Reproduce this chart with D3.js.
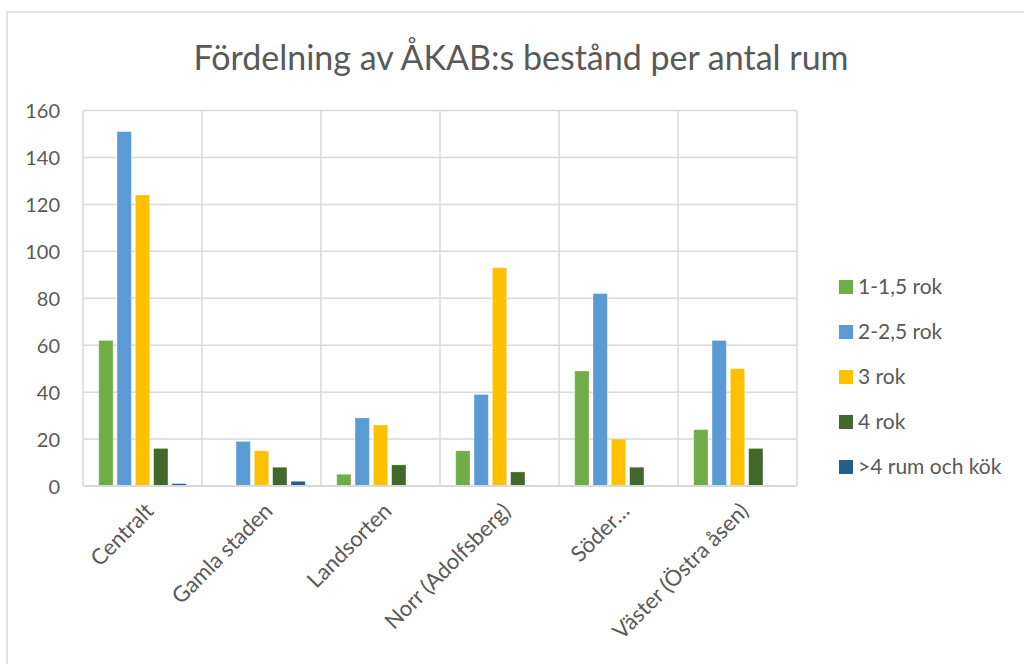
<!DOCTYPE html>
<html><head><meta charset="utf-8">
<script src="https://cdn.jsdelivr.net/npm/d3@7"></script>
<style>html,body{margin:0;padding:0;background:#fff;}svg{display:block;}</style>
</head><body>
<svg id="c" width="1024" height="664"></svg>
<script>
const categories = ["Centralt","Gamla staden","Landsorten","Norr (Adolfsberg)","Söder…","Väster (Östra åsen)"];
const seriesNames = ["1-1,5 rok","2-2,5 rok","3 rok","4 rok",">4 rum och kök"];
const seriesColors = ["#70AD47","#5B9BD5","#FFC000","#43682B","#255E91"];
const s1 = [62, 0, 5, 15, 49, 24];
const s2 = [151, 19, 29, 39, 82, 62];
const s3 = [124, 15, 26, 93, 20, 50];
const s4 = [16, 8, 9, 6, 8, 16];
const s5 = [1, 2, 0, 0, 0, 0];
const yTicks = [0,20,40,60,80,100,120,140,160];
const title = "Fördelning av ÅKAB:s bestånd per antal rum";

const series = [s1,s2,s3,s4,s5];
const font = "Lato, 'Open Sans', sans-serif";
const txt = "#595959", grid = "#d9d9d9";
const svg = d3.select("#c");

// outer chart border
svg.append("rect").attr("x",7).attr("y",12).attr("width",1100).attr("height",700)
  .attr("fill","none").attr("stroke",grid).attr("stroke-width",1.5);

const L = 83, R = 797, T = 110.5, B = 486;
const x0 = d3.scaleBand().domain(categories).range([L,R]).padding(0);
const x1 = d3.scaleBand().domain(d3.range(series.length)).range([0,x0.bandwidth()])
  .paddingInner(0.22).paddingOuter(0.86);
const y = d3.scaleLinear().domain([0,160]).range([B,T]);

// horizontal gridlines
svg.append("g").selectAll("line").data(yTicks.slice(1)).join("line")
  .attr("x1",L).attr("x2",R).attr("y1",d=>y(d)).attr("y2",d=>y(d))
  .attr("stroke",grid).attr("stroke-width",1.5);
// vertical gridlines
const vx = categories.map(c=>x0(c)).concat([R]);
svg.append("g").selectAll("line").data(vx).join("line")
  .attr("x1",d=>d).attr("x2",d=>d).attr("y1",T).attr("y2",B)
  .attr("stroke",grid).attr("stroke-width",1.5);

// bars
const g = svg.append("g");
series.forEach((vals,si)=>{
  g.selectAll(null).data(vals).join("rect")
    .attr("x",(d,i)=>x0(categories[i])+x1(si))
    .attr("width",x1.bandwidth())
    .attr("y",d=>y(d))
    .attr("height",d=>B-y(d))
    .attr("fill",seriesColors[si])
    .attr("stroke","#ffffff").attr("stroke-opacity",0.35).attr("stroke-width",0.8);
});

// baseline axis
svg.append("line").attr("x1",L).attr("x2",R).attr("y1",B).attr("y2",B)
  .attr("stroke",grid).attr("stroke-width",1.8);

// y labels
const yAxis = d3.axisLeft(y).tickValues(yTicks).tickSize(0).tickPadding(0);
const ya = svg.append("g").attr("transform","translate(60,0)").call(yAxis);
ya.select(".domain").remove();
ya.selectAll("text").attr("font-family",font).attr("font-size",20).attr("fill",txt).attr("dy","0.35em");

// x labels (rotated -45deg, end centred under category)
svg.append("g").selectAll("text").data(categories).join("text")
  .attr("transform",d=>`translate(${x0(d)+x0.bandwidth()/2+7},507) rotate(-45)`)
  .attr("text-anchor","end").attr("dy","0.35em")
  .attr("font-family",font).attr("font-size",22).attr("fill",txt)
  .text(d=>d);

// title
svg.append("text").attr("x",521).attr("y",70).attr("text-anchor","middle")
  .attr("font-family",font).attr("font-size",34).attr("fill",txt).text(title);

// legend
const lg = svg.append("g");
const ly = d3.scalePoint().domain(seriesNames).range([287,467]);
seriesNames.forEach((n,i)=>{
  lg.append("rect").attr("x",839).attr("y",ly(n)-7).attr("width",14).attr("height",14).attr("fill",seriesColors[i]);
  lg.append("text").attr("x",858).attr("y",ly(n)).attr("dy","0.35em")
    .attr("font-family",font).attr("font-size",21).attr("fill",txt).text(n);
});
</script>
</body></html>
